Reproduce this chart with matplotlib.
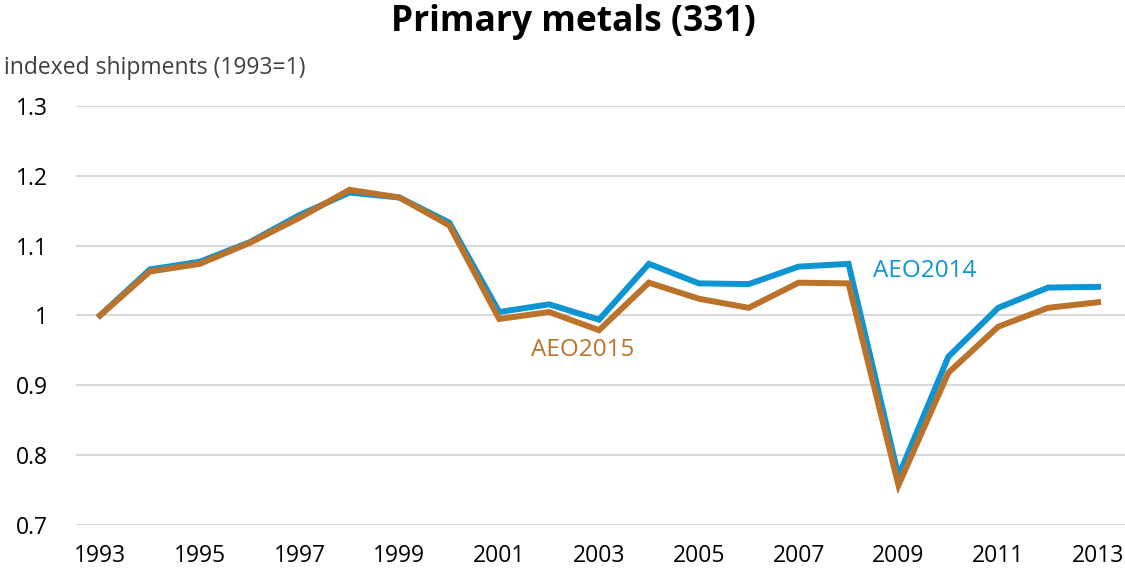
import numpy as np
import matplotlib.pyplot as plt

years = np.arange(1993, 2014)
aeo2014 = [1.0, 1.066, 1.077, 1.105, 1.144, 1.176, 1.169, 1.133, 1.005, 1.016, 0.994,
           1.074, 1.046, 1.045, 1.070, 1.074, 0.770, 0.941, 1.011, 1.040, 1.041]
aeo2015 = [1.0, 1.063, 1.074, 1.104, 1.140, 1.180, 1.169, 1.129, 0.995, 1.005, 0.979,
           1.047, 1.024, 1.011, 1.047, 1.046, 0.757, 0.918, 0.984, 1.011, 1.019]
yticks = [0.7, 0.8, 0.9, 1.0, 1.1, 1.2, 1.3]
ytick_labels = ["0.7", "0.8", "0.9", "1", "1.1", "1.2", "1.3"]
xticks = np.arange(1993, 2014, 2)

blue = "#0d95d3"
brown = "#bb722b"

plt.rcParams['font.family'] = ['Open Sans', 'DejaVu Sans']

fig = plt.figure(figsize=(11.25, 5.74), dpi=100)
ax = fig.add_axes([0.0676, 0.0854, 0.9324, 0.7299])

ax.plot(years, aeo2014, color=blue, lw=4.3, solid_joinstyle='miter', zorder=3)
ax.plot(years, aeo2015, color=brown, lw=4.3, solid_joinstyle='miter', zorder=4)

ax.set_xlim(1992.52, 2013.54)
ax.set_ylim(0.7, 1.3)
ax.set_yticks(yticks)
ax.set_yticklabels(ytick_labels)
ax.set_xticks(xticks)
ax.grid(axis='y', color='#d9d9d9', lw=1.5)
ax.set_axisbelow(True)
for s in ax.spines.values():
    s.set_visible(False)
ax.tick_params(length=0, labelsize=16.5, colors='black')
ax.tick_params(axis='y', pad=20)
ax.tick_params(axis='x', pad=14)

ax.text(2008.49, 1.064, "AEO2014", color=blue, fontsize=17.5, va='center')
ax.text(2001.64, 0.951, "AEO2015", color=brown, fontsize=17.5, va='center')

fig.text(0.51, 0.962, "Primary metals (331)", ha='center', va='center',
         fontsize=25.5, fontweight='bold')
fig.text(0.004, 0.882, "indexed shipments (1993=1)", ha='left', va='center',
         fontsize=16.5, color='#404040')

fig.savefig("out.png", dpi=100)
